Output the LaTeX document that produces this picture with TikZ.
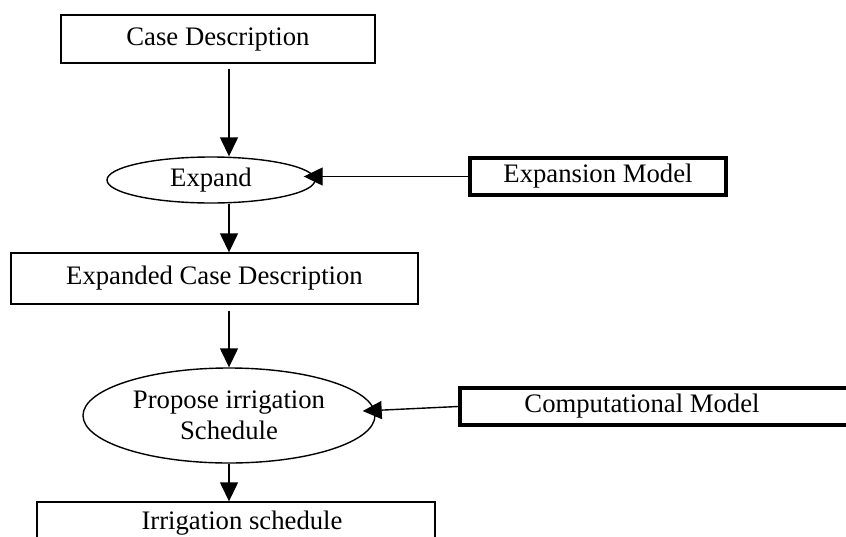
\documentclass[tikz,border=0pt]{standalone}
\usepackage{fontspec}
\setmainfont{Liberation Serif}
\usetikzlibrary{shapes.geometric,arrows.meta}

\tikzset{
  caja/.style={draw, line width=1.4pt, rectangle, inner sep=0pt},
  modelo/.style={draw, line width=4pt, rectangle, inner sep=0pt},
  proceso/.style={draw, line width=1.4pt, ellipse, inner sep=0pt, align=center},
  flecha/.style={line width=1.4pt, -{Triangle[length=19pt,width=18pt]}}
}

\begin{document}
\begin{tikzpicture}[x=1pt, y=-1pt, font=\fontsize{26.7}{30.5}\selectfont]
    % Recortar al area de la figura
    \clip (0,0) rectangle (846,536);

    % Eje vertical de las flechas
    \coordinate (eje) at (229,0);

    % Descripcion del caso
    \node[caja, minimum width=314pt, minimum height=48pt] (desc) at (218,39) {Case Description};

    % Proceso de expansion
    \node[proceso, minimum width=208pt, minimum height=46pt] (expand) at (211,180) {Expand};

    % Modelo de expansion
    \node[modelo, minimum width=256pt, minimum height=37pt] (expmodel) at (598,176.5) {Expansion Model};

    % Descripcion expandida
    \node[caja, minimum width=407pt, minimum height=51pt] (expanded) at (214.5,278.5) {Expanded Case Description};

    % Proceso de propuesta
    \node[proceso, minimum width=292pt, minimum height=95pt] (propose) at (229,415.5) {Propose irrigation\\Schedule};

    % Modelo computacional
    \node[modelo, minimum width=410pt, minimum height=37pt,
          label={[xshift=-23pt]center:Computational Model}] (compmodel) at (665,406.5) {};

    % Calendario de riego
    \node[caja, minimum width=398pt, minimum height=48pt,
          label={[xshift=6pt, yshift=3pt]center:Irrigation schedule}] (schedule) at (236,526) {};

    % Flechas verticales
    \draw[flecha, shorten <=5pt] (desc.south -| eje) -- (expand.north -| eje);
    \draw[flecha] (expand.south -| eje) -- (expanded.north -| eje);
    \draw[flecha, shorten <=6pt] (expanded.south -| eje) -- (propose.north);
    \draw[flecha] (propose.south) -- (schedule.north -| eje);

    % Flechas desde los modelos
    \draw[flecha, shorten >=-12pt] (expmodel.west) -- (expmodel.west -| expand.east);
    \draw[flecha] (compmodel.west) -- ([xshift=-13pt, yshift=4.5pt]propose.east);

  \end{tikzpicture}
\end{document}
